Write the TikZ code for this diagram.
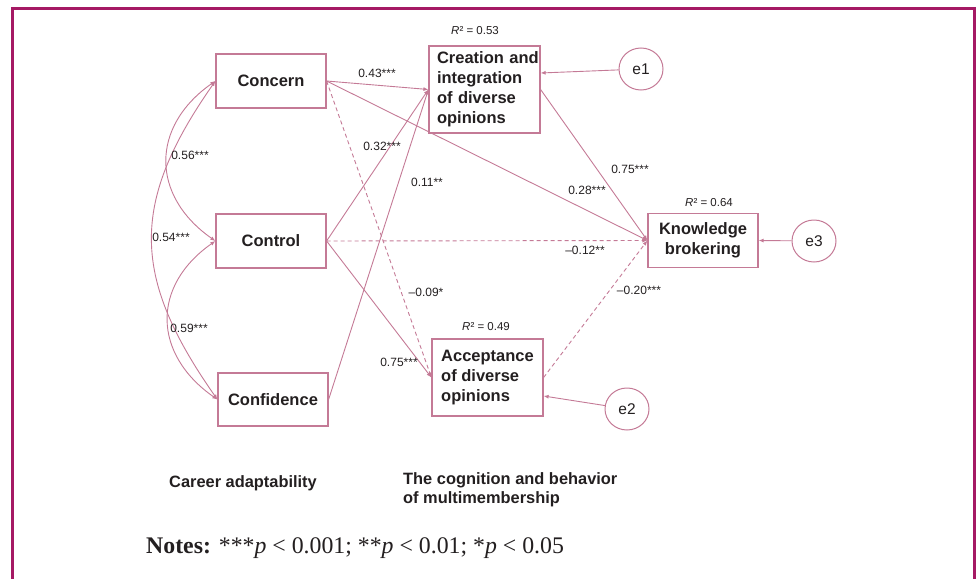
\documentclass[tikz,border=0pt]{standalone}
\usepackage{fontspec}
\setmainfont{Liberation Sans}
\newfontfamily\notesfont{Liberation Serif}
\usetikzlibrary{shapes.geometric, arrows.meta}
\definecolor{framecol}{RGB}{165,25,100}
\definecolor{linecol}{RGB}{196,122,150}
\definecolor{txtcol}{RGB}{35,31,32}
\tikzstyle{construct} = [rectangle, minimum width=110pt, minimum height=54pt, text centered, draw=linecol, line width=1.2pt, text=txtcol, font=\fontsize{16.5}{20}\selectfont\bfseries]
\tikzstyle{error} = [ellipse, minimum width=44pt, minimum height=42pt, inner sep=0pt, draw=linecol, line width=1pt, text=txtcol, font=\fontsize{15.5}{18}\selectfont]
\tikzstyle{coef} = [inner sep=1pt, text=txtcol, font=\fontsize{12}{14}\selectfont]
\tikzstyle{rsq} = [inner sep=1pt, text=txtcol, font=\fontsize{11.5}{14}\selectfont]
\tikzstyle{group} = [inner sep=0pt, text=txtcol, font=\fontsize{16.4}{19}\selectfont\bfseries]
\tikzstyle{arrow} = [draw=linecol, line width=0.9pt, -{Latex[length=5pt,width=4pt]}]
\tikzstyle{dasharrow} = [arrow, dash pattern=on 4pt off 3pt]
\tikzstyle{covar} = [draw=linecol, line width=0.9pt, {Latex[length=5pt,width=4pt]}-{Latex[length=5pt,width=4pt]}]

\begin{document}
\begin{tikzpicture}[x=1pt, y=1pt]
\useasboundingbox (0,0) rectangle (976,-578);
\draw [framecol, line width=3pt] (12,-600) -- (12,-9) -- (974,-9) -- (974,-600);

\node (concern) [construct] at (271,-81) {Concern};
\node (control) [construct] at (271,-241) {Control};
\node (confidence) [construct, minimum height=53pt] at (273,-399.5) {Confidence};
\node (creation) [construct, minimum width=111pt, minimum height=87pt, text width=95pt, inner xsep=8pt, align=left] at (484.5,-89.5) {Creation~and\\integration\\of diverse\\opinions};
\node (acceptance) [construct, minimum width=111pt, minimum height=77pt, inner xsep=9pt, align=left] at (487.5,-377.5) {Acceptance\\of diverse\\opinions};
\node (knowledge) [construct, align=center] at (703,-240.5) {Knowledge\\brokering};

\node (e1) [error] at (641,-69) {e1};
\node (e2) [error] at (627,-409) {e2};
\node (e3) [error] at (814,-241) {e3};

\node (r1) [rsq] at (475,-31) {\textit{R}² = 0.53};
\node (r2) [rsq] at (709,-203) {\textit{R}² = 0.64};
\node (r3) [rsq] at (486,-327) {\textit{R}² = 0.49};

\draw [arrow] (concern.east) -- (creation.west);
\draw [arrow] (control.east) -- (creation.west);
\draw [arrow] (confidence.east) -- (creation.west);
\draw [dasharrow] (concern.east) -- (acceptance.west);
\draw [arrow] (control.east) -- (acceptance.west);
\draw [arrow] (concern.east) -- (knowledge.west);
\draw [arrow] (creation.east) -- (knowledge.west);
\draw [dasharrow] (control.east) -- (knowledge.west);
\draw [dasharrow] (acceptance.east) -- (knowledge.west);
\draw [arrow] (e1) -- ([yshift=16.5pt]creation.east);
\draw [arrow] (e2) -- ([yshift=-18.5pt]acceptance.east);
\draw [arrow] (e3) -- (knowledge.east);

\draw [covar] (concern.west) to[out=215, in=145, looseness=1.27] (control.west);
\draw [covar] (control.west) to[out=215, in=145, looseness=1.27] (confidence.west);
\draw [covar] (concern.west) to[out=235, in=125, looseness=1.2] (confidence.west);

\node (c1) [coef] at (377,-73) {0.43***};
\node (c2) [coef] at (382,-146) {0.32***};
\node (c3) [coef] at (427,-182) {0.11**};
\node (c4) [coef] at (587,-190) {0.28***};
\node (c5) [coef] at (630,-169) {0.75***};
\node (c6) [coef] at (585,-250) {\textendash0.12**};
\node (c7) [coef] at (639,-290) {\textendash0.20***};
\node (c8) [coef] at (426,-292) {\textendash0.09*};
\node (c9) [coef] at (399,-362) {0.75***};
\node (v1) [coef] at (190,-155) {0.56***};
\node (v2) [coef] at (171,-237) {0.54***};
\node (v3) [coef] at (189,-328) {0.59***};

\node (career) [group] at (243,-483) {Career adaptability};
\node (multi) [group, anchor=west, align=left] at (403,-490) {The cognition and behavior\\of multimembership};
\node (notes) [anchor=west, inner sep=0pt, text=txtcol, font=\notesfont\fontsize{23.8}{26}\selectfont] at (146,-548) {\textbf{Notes:} ***\textit{p} < 0.001; **\textit{p} < 0.01; *\textit{p} < 0.05};
\end{tikzpicture}
\end{document}
